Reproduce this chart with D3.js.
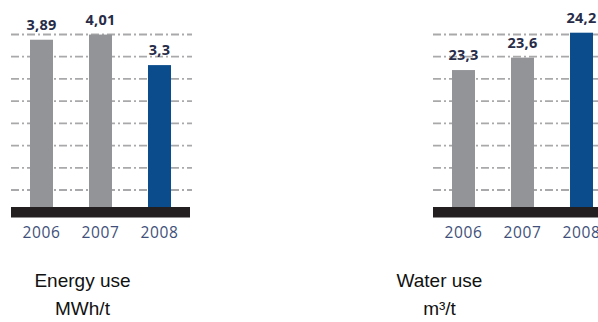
<!DOCTYPE html>
<html>
<head>
<meta charset="utf-8">
<script src="https://cdn.jsdelivr.net/npm/d3@7"></script>
<style>
  html, body { margin: 0; padding: 0; background: #fff; }
  svg { display: block; }
</style>
</head>
<body>
<svg id="chart" width="598" height="322"></svg>
<script>
// ---- data ----
const years = ["2006", "2007", "2008"];
const energyValues = [3.89, 4.01, 3.3];
const energyLabels = ["3,89", "4,01", "3,3"];
const waterValues = [23.3, 23.6, 24.2];
const waterLabels = ["23,3", "23,6", "24,2"];
const energyTitle = ["Energy use", "MWh/t"];
const waterTitle = ["Water use", "m³/t"];
const gridCount = 8;

const svg = d3.select("#chart");
const grayBar = "#939498";
const blueBar = "#0a4c8c";

function panel(opts) {
  const g = svg.append("g");
  const x = d3.scaleBand().domain(years)
    .range([opts.x0, opts.x0 + 177])
    .paddingInner(0.61).paddingOuter(0.305);
  const y = d3.scaleLinear().domain(opts.domain).range([207, 207 - opts.k * (opts.domain[1] - opts.domain[0])]);
  const grid = d3.scaleLinear().domain([0, gridCount - 1]).range([190, 34.5]);

  // gridlines
  g.selectAll("line.grid").data(d3.range(gridCount)).join("line")
    .attr("class", "grid")
    .attr("x1", opts.x0 - 1).attr("x2", opts.x0 + 180)
    .attr("y1", d => grid(d)).attr("y2", d => grid(d))
    .attr("stroke", "#a9a9ab").attr("stroke-width", 1.8)
    .attr("stroke-dasharray", "8,3,2,3");

  // bars
  g.selectAll("rect.bar").data(opts.values).join("rect")
    .attr("class", "bar")
    .attr("x", (d, i) => x(years[i]))
    .attr("width", x.bandwidth())
    .attr("y", d => y(d))
    .attr("height", d => y(opts.domain[0]) - y(d))
    .attr("fill", (d, i) => i === 2 ? blueBar : grayBar);

  // base
  g.append("rect")
    .attr("x", opts.x0 - 1).attr("width", 179)
    .attr("y", y(opts.domain[0])).attr("height", 10.5)
    .attr("fill", "#231f20");

  // value labels
  g.selectAll("text.val").data(opts.values).join("text")
    .attr("class", "val")
    .attr("x", (d, i) => x(years[i]) + x.bandwidth() / 2)
    .attr("y", d => y(d) - 10)
    .attr("text-anchor", "middle")
    .attr("font-family", "'Open Sans', sans-serif")
    .attr("font-weight", "bold")
    .attr("font-size", 14.5)
    .attr("letter-spacing", 0.3)
    .attr("fill", "#272c48")
    .text((d, i) => opts.labels[i]);

  // year labels
  g.selectAll("text.yr").data(years).join("text")
    .attr("class", "yr")
    .attr("x", d => x(d) + x.bandwidth() / 2)
    .attr("y", 237.5)
    .attr("text-anchor", "middle")
    .attr("font-family", "'Open Sans', sans-serif")
    .attr("font-size", 15.5)
    .attr("letter-spacing", 0.6)
    .attr("fill", "#40507a")
    .text(d => d);

  // titles
  g.selectAll("text.title").data(opts.title).join("text")
    .attr("class", "title")
    .attr("x", opts.tx)
    .attr("y", (d, i) => 287 + i * 28)
    .attr("text-anchor", "middle")
    .attr("font-family", "'Liberation Sans', Arial, sans-serif")
    .attr("font-size", 19)
    .attr("fill", "#111")
    .text(d => d);
}

panel({ x0: 12, domain: [0, 4.0], k: 43, values: energyValues, labels: energyLabels, title: energyTitle, tx: 82.5 });
panel({ x0: 434, domain: [20, 24.2], k: 41.5, values: waterValues, labels: waterLabels, title: waterTitle, tx: 439.5 });
</script>
</body>
</html>
